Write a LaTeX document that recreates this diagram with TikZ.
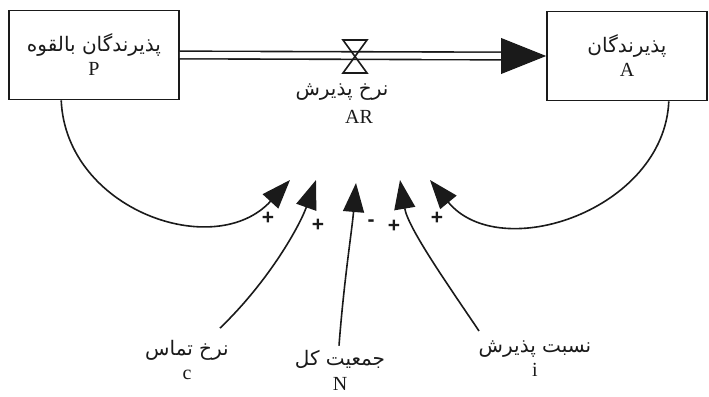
\documentclass[tikz,border=0pt]{standalone}
\usepackage{fontspec}
\setmainfont{Liberation Serif}
\newfontfamily\fafont[Script=Arabic]{DejaVu Sans}
\newfontfamily\signfont{Liberation Sans}
\TeXXeTstate=1
\usetikzlibrary{arrows.meta}
\definecolor{ink}{HTML}{1A1A1A}
\newcommand{\fa}[1]{{\fafont\fontsize{20}{20}\selectfont\beginR #1\endR}}
\tikzset{
  stock/.style={draw=ink, line width=1.6pt, minimum width=170pt, minimum height=89pt,
    inner sep=0pt, align=center, text=ink, font=\fontsize{20}{24}\selectfont},
  pipe/.style={draw=ink, double, double distance=6pt, line width=1.6pt},
  link/.style={draw=ink, line width=1.6pt, -{Triangle[length=29pt,width=21pt]}},
  varname/.style={align=center, text=ink, inner sep=0pt, font=\fontsize{20}{24}\selectfont},
  sign/.style={text=ink, inner sep=0pt, font=\signfont\bfseries\fontsize{21}{21}\selectfont}
}

\begin{document}
\begin{tikzpicture}[x=1pt, y=-1pt]
    \useasboundingbox (0,0) rectangle (709,396);
    \node[stock] (P) at (94,55) {\fa{پذیرندگان بالقوه}\\P};
    \node[stock, minimum width=160pt] (A) at (627,56) {\fa{پذیرندگان}\\A};
    \draw[pipe] (P.east) -- ([xshift=-44pt]A.west);
    \fill[ink] (A.west) -- ++(-45,-18) -- ++(0,36) -- cycle;
    \coordinate (valve) at (355,56);
    \draw[ink, line width=1.6pt] ([shift={(-12,-16)}]valve) -- ([shift={(12,-16)}]valve)
      -- ([shift={(-12,17)}]valve) -- ([shift={(12,17)}]valve) -- cycle;
    \node[varname] (ARname) at (342,92) {\fa{نرخ پذیرش}};
    \node[varname] (AR) at (359,117) {AR};
    \node[varname] (c) at (187,360) {\fa{نرخ تماس}\\c};
    \node[varname] (N) at (340,370) {\fa{جمعیت کل}\\[1pt]N};
    \node[varname] (i) at (535,359) {\fa{نسبت پذیرش}\\i};
    \coordinate (t1) at (290,180);
    \coordinate (t2) at (316,180);
    \coordinate (t3) at (356,183);
    \coordinate (t4) at (400,180);
    \coordinate (t5) at (430,180);
    \draw[link] ([xshift=53pt]P.south west) .. controls (66,210) and (215,262) .. (t1);
    \draw[link] ([shift={(33,-12)}]c.north) .. controls (270,280) and (300,225) .. (t2);
    \draw[link] ([shift={(-1,-4)}]N.north) .. controls (344,280) and (352,230) .. (t3);
    \draw[link] ([shift={(-56,-10)}]i.north) .. controls (448,285) and (408,228) .. (t4);
    \draw[link] ([xshift=-39pt]A.south east) .. controls (664,210) and (500,265) .. (t5);
    \node[sign] (s1) at (268,218) {+};
    \node[sign] (s2) at (318,225) {+};
    \node[sign] (s3) at (371,223) {-};
    \node[sign] (s4) at (394,226) {+};
    \node[sign] (s5) at (437,218) {+};
\end{tikzpicture}
\end{document}
